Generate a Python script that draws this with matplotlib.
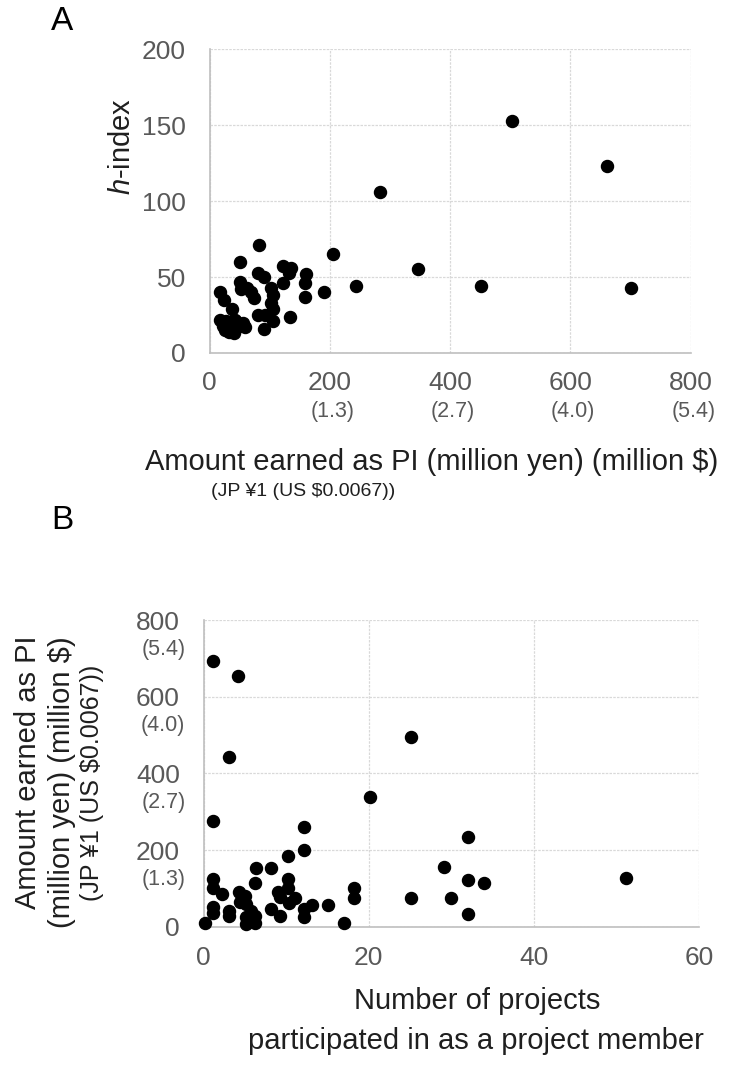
import matplotlib
matplotlib.use("Agg")
import matplotlib.pyplot as plt

plt.rcParams["font.family"] = ["Liberation Sans", "DejaVu Sans"]
plt.rcParams["mathtext.fontset"] = "custom"
plt.rcParams["mathtext.it"] = "Liberation Sans:italic"
plt.rcParams["mathtext.rm"] = "Liberation Sans"

# A: amount earned as PI (million yen) vs h-index
amount_a = [701, 661, 503, 451, 347, 284, 243, 206, 191, 161,
            159, 158, 136, 122, 132, 122, 82, 51, 81, 91,
            51, 53, 62, 69, 74, 103, 105, 103, 105, 81,
            92, 134, 106, 91, 18, 24, 37, 17, 28, 40,
            51, 59, 26, 40, 44, 34, 42, 28, 22, 48, 33, 56]
h_index = [43, 123, 153, 44, 55, 106, 44, 65, 40, 52,
           46, 37, 56, 57, 53, 46, 71, 60, 53, 50,
           47, 42, 43, 40, 36, 43, 38, 33, 29, 25,
           25, 24, 21, 16, 40, 35, 29, 22, 21, 22,
           18, 17, 15, 13, 17, 17, 22, 19, 18, 20, 14, 20]

# B: number of projects as member vs amount earned as PI
n_projects = [1.1, 4.2, 3.1, 25.1, 20.2, 1.1, 12.2, 12.2, 10.2, 6.3,
              8.2, 1.1, 6.2, 1.1, 2.2, 4.3, 5.0, 4.4, 5.2, 10.2,
              10.2, 9.0, 9.3, 11.1, 10.3, 13.1, 12.2, 12.2, 15.1, 18.2,
              18.2, 17.0, 8.2, 9.2, 1.1, 1.1, 3.1, 3.1, 5.1, 6.2,
              6.2, 5.1, 5.8, 0.2, 32, 29.1, 32, 34, 30, 32, 51.1, 25.1]
amount_b = [693, 654, 443, 496, 338, 276, 261, 200, 185, 152,
            152, 125, 113, 100, 85, 90, 80, 65, 60, 124,
            102, 91, 78, 76, 61, 57, 47, 26, 56, 102,
            76, 9, 46, 28, 52, 35, 40, 27, 26, 28,
            10, 8, 40, 10, 233, 157, 122, 113, 74, 32, 128, 74]

yen_ticks = [0, 200, 400, 600, 800]
usd_labels = ["", "(1.3)", "(2.7)", "(4.0)", "(5.4)"]
proj_ticks = [0, 20, 40, 60]
h_ticks = [0, 50, 100, 150, 200]

W, H = 729, 1068
tick_col = "#595959"
text_col = "#1f1f1f"
grid_col = "#d9d9d9"
label_fs = 21


def fx(px):
    return px / W


def fy(py):
    return 1 - py / H


def style(ax):
    ax.grid(True, color=grid_col, linestyle=(0, (2, 1)), linewidth=0.9)
    ax.set_axisbelow(True)
    for side in ["top", "right"]:
        ax.spines[side].set_visible(False)
    for side in ["left", "bottom"]:
        ax.spines[side].set_color("#bfbfbf")
        ax.spines[side].set_linewidth(1.2)
    ax.tick_params(length=0, labelsize=19, labelcolor=tick_col)


fig = plt.figure(figsize=(W / 100, H / 100), dpi=100)

# ---------------- A
ax1 = fig.add_axes([fx(209.5), fy(353), fx(690.7) - fx(209.5), fy(49.3) - fy(353)])
ax1.scatter(amount_a, h_index, s=75, color="black", zorder=3, clip_on=False)
ax1.set_xlim(0, 800)
ax1.set_ylim(0, 200)
ax1.set_xticks(yen_ticks)
ax1.set_yticks(h_ticks)
style(ax1)
ax1.tick_params(axis="x", pad=13)
ax1.tick_params(axis="y", pad=17)
for v, lab in zip(yen_ticks, usd_labels):
    ax1.annotate(lab, xy=(v, 0), xycoords=ax1.get_xaxis_transform(),
                 xytext=(2, -42), textcoords="offset points",
                 ha="center", va="center", fontsize=15.5, color=tick_col)

fig.text(fx(62), fy(22), "A", fontsize=24, ha="center", va="center", color="black")
fig.text(fx(122), fy(146), "$h$-index", rotation=90, fontsize=label_fs,
         ha="center", va="center", color=text_col)
fig.text(fx(432), fy(462), "Amount earned as PI (million yen) (million $)",
         fontsize=label_fs, ha="center", va="center", color=text_col)
fig.text(fx(303), fy(492), "(JP \u00a51 (US $0.0067))",
         fontsize=14, ha="center", va="center", color=text_col)

# ---------------- B
ax2 = fig.add_axes([fx(203.5), fy(926.7), fx(699.3) - fx(203.5), fy(620) - fy(926.7)])
ax2.scatter(n_projects, amount_b, s=75, color="black", zorder=3, clip_on=False)
ax2.set_xlim(0, 60)
ax2.set_ylim(0, 800)
ax2.set_xticks(proj_ticks)
ax2.set_yticks(yen_ticks)
style(ax2)
ax2.tick_params(axis="x", pad=14)
ax2.tick_params(axis="y", pad=17)
for v, lab in zip(yen_ticks, usd_labels):
    ax2.annotate(lab, xy=(0, v), xycoords=ax2.get_yaxis_transform(),
                 xytext=(-13, -21), textcoords="offset points",
                 ha="right", va="center", fontsize=15.5, color=tick_col)

fig.text(fx(62), fy(520), "B", fontsize=24, ha="center", va="center", color="black")
fig.text(fx(28), fy(772), "Amount earned as PI", rotation=90, fontsize=label_fs,
         ha="center", va="center", color=text_col)
fig.text(fx(62), fy(782), "(million yen) (million $)", rotation=90, fontsize=label_fs,
         ha="center", va="center", color=text_col)
fig.text(fx(92), fy(783), "(JP \u00a51 (US $0.0067))", rotation=90, fontsize=18,
         ha="center", va="center", color=text_col)
fig.text(fx(477), fy(1001), "Number of projects", fontsize=label_fs,
         ha="center", va="center", color=text_col)
fig.text(fx(476), fy(1041), "participated in as a project member", fontsize=label_fs,
         ha="center", va="center", color=text_col)

fig.savefig("out.png", dpi=100)
